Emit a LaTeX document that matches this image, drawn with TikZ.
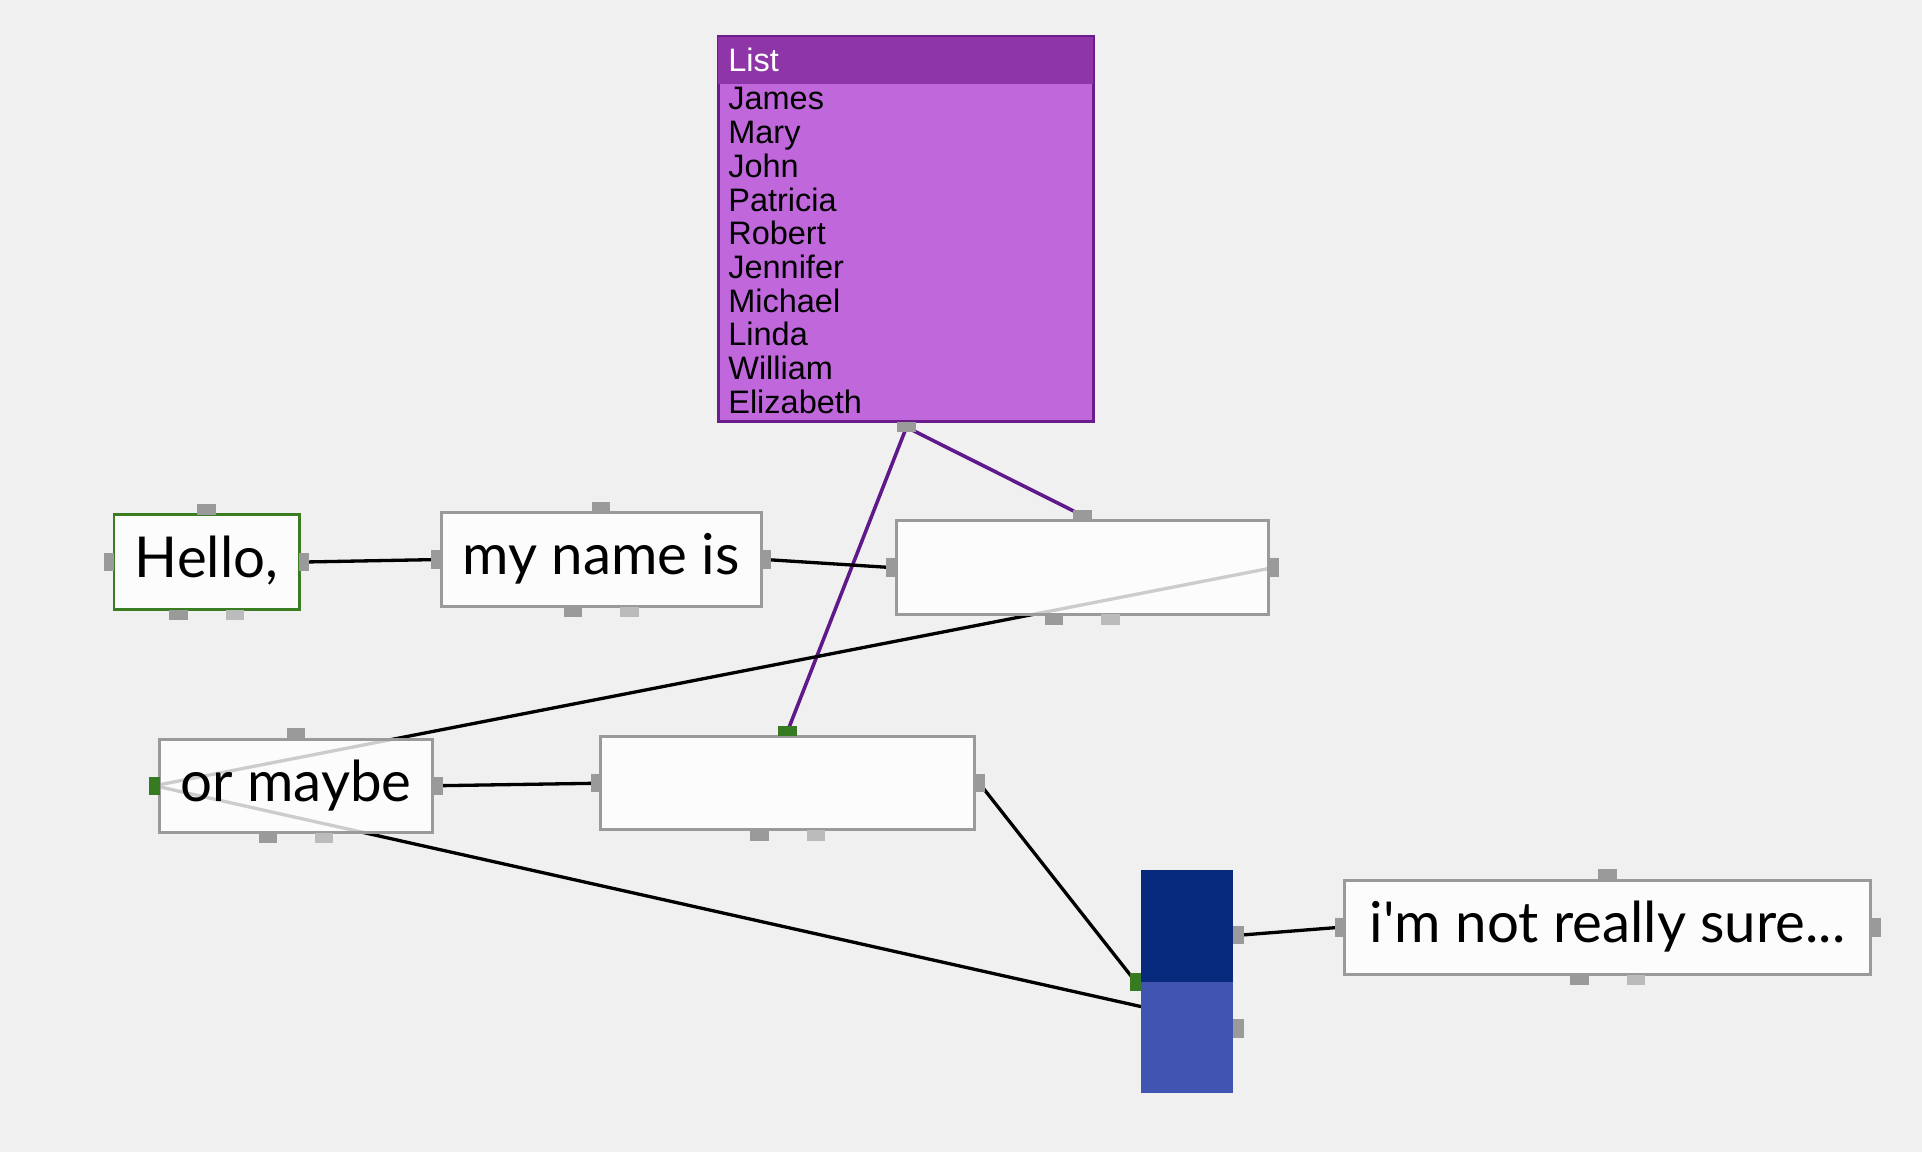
\documentclass[tikz,border=0pt]{standalone}
\usepackage{fontspec}
\setmainfont{Lato}
\newfontfamily\listfont{Liberation Sans}
\definecolor{bg}{HTML}{F0F0F0}
\definecolor{boxgray}{HTML}{9A9A9A}
\definecolor{portdark}{HTML}{9A9A9A}
\definecolor{portlight}{HTML}{BBBBBB}
\definecolor{portgreen}{HTML}{367A22}
\definecolor{hellogreen}{HTML}{3B7D23}
\definecolor{listborder}{HTML}{6B1D8C}
\definecolor{listhead}{HTML}{8E35A8}
\definecolor{listbody}{HTML}{C067DC}
\definecolor{purpleline}{HTML}{60198A}
\definecolor{navy}{HTML}{072A7D}
\definecolor{midblue}{HTML}{4154B1}
\tikzset{
  boxnode/.style={draw=boxgray, line width=2.4pt, fill=white, fill opacity=0.8, inner sep=0, rectangle},
  hport/.style={rectangle, inner sep=0, minimum width=15, minimum height=8.5, fill=portdark},
  vport/.style={rectangle, inner sep=0, minimum width=8.5, minimum height=15, fill=portdark},
  lightp/.style={fill=portlight},
  greenp/.style={fill=portgreen},
  conn/.style={line width=2.7pt, black},
  pconn/.style={line width=2.9pt, purpleline},
  boxtext/.style={anchor=base, inner sep=0, font=\fontsize{46}{50}\selectfont},
  listtext/.style={anchor=base west, inner sep=0, font=\listfont\fontsize{26.5}{27.5}\selectfont}
}
\begin{document}
\begin{tikzpicture}[x=1pt,y=-1pt]
\useasboundingbox (0,0) rectangle (1568,940);
\fill[bg] (0,0) rectangle (1568,940);

% List box
\node[rectangle, draw=listborder, line width=2.4pt, fill=listbody, inner sep=0, minimum width=306, minimum height=314] (list) at (739,187) {};
\fill[listhead] ([xshift=1.2pt,yshift=-1.2pt]list.north west) rectangle ([xshift=-1.2pt]list.east |- 0,68.5);
\node[listtext, text=white] (listtitle) at (594,58.5) {List};
\foreach \n [count=\i from 0] in {James,Mary,John,Patricia,Robert,Jennifer,Michael,Linda,William,Elizabeth}{
  \node[listtext] (name\i) at (594,{89.7+27.5*\i}) {\n};
}

% port coordinates (centres) for connectors
\coordinate (listB) at (739.5,348.5);
\coordinate (helloR) at (248,458.5);
\coordinate (mynameL) at (356,456.5);
\coordinate (mynameR) at (625,456.5);
\coordinate (aL) at (727,463);
\coordinate (aT) at (883,420.5);
\coordinate (aR) at (1039,463);
\coordinate (omL) at (126,641);
\coordinate (omR) at (357,641);
\coordinate (bL) at (486,639);
\coordinate (bT) at (642.5,596.5);
\coordinate (bR) at (799,639);
\coordinate (blueL) at (926.5,801);
\coordinate (blueRU) at (1010.5,763);
\coordinate (blueRL) at (1010.5,839);
\coordinate (nsL) at (1093,756.5);

% connectors
\draw[pconn] (listB) -- (aT);
\draw[pconn] (listB) -- (bT);
\draw[conn] (helloR) -- (mynameL);
\draw[conn] (mynameR) -- (aL);
\draw[conn] (aR) -- (omL);
\draw[conn] (omL) -- (blueRL);
\draw[conn] (omR) -- (bL);
\draw[conn] (bR) -- (blueL);
\draw[conn] (blueRU) -- (nsL);

% boxes
\node[boxnode, draw=hellogreen, minimum width=151, minimum height=77] (hello) at (168.5,458.5) {};
\node[boxnode, minimum width=261, minimum height=77] (myname) at (490.5,456.5) {};
\node[boxnode, minimum width=304, minimum height=76] (boxa) at (883,463) {};
\node[boxnode, minimum width=223, minimum height=76] (ormaybe) at (241.5,641) {};
\node[boxnode, minimum width=305, minimum height=76] (boxb) at (642.5,639) {};
\node[boxnode, minimum width=429, minimum height=77] (notsure) at (1311.5,756.5) {};
\node[rectangle, fill=navy, inner sep=0, minimum width=75, minimum height=91] (bluetop) at (968.5,755.5) {};
\node[rectangle, fill=midblue, inner sep=0, minimum width=75, minimum height=91] (bluebot) at (968.5,846.5) {};

% texts
\node[boxtext] (t1) at (168.5,471) {Hello,};
\node[boxtext] (t2) at (490.5,469) {my name is};
\node[boxtext] (t3) at (241.5,654) {or maybe};
\node[boxtext] (t4) at (1311.5,769) {i\textquotesingle m not really sure...};

% ports
\node[hport] (p1) at (listB) {};
% hello
\node[hport] at (168.5,415.5) {};
\node[vport] at (89,458.5) {};
\node[vport] at (helloR) {};
\node[hport] at (145.5,501.5) {};
\node[hport,lightp] at (191.5,501.5) {};
% my name
\node[hport] at (490.5,413.5) {};
\node[vport] at (mynameL) {};
\node[vport] at (mynameR) {};
\node[hport] at (467.5,499.5) {};
\node[hport,lightp] at (513.5,499.5) {};
% box a
\node[hport] at (aT) {};
\node[vport] at (aL) {};
\node[vport] at (aR) {};
\node[hport] at (860,505.5) {};
\node[hport,lightp] at (906,505.5) {};
% or maybe
\node[hport] at (241.5,598.5) {};
\node[vport,greenp] at (omL) {};
\node[vport] at (omR) {};
\node[hport] at (218.5,683.5) {};
\node[hport,lightp] at (264.5,683.5) {};
% box b
\node[hport,greenp] at (bT) {};
\node[vport] at (bL) {};
\node[vport] at (bR) {};
\node[hport] at (619.5,681.5) {};
\node[hport,lightp] at (665.5,681.5) {};
% blue block
\node[vport,greenp] at (blueL) {};
\node[vport] at (blueRU) {};
\node[vport] at (blueRL) {};
% not sure
\node[hport] at (1311.5,713.5) {};
\node[vport] at (nsL) {};
\node[vport] at (1530,756.5) {};
\node[hport] at (1288.5,799.5) {};
\node[hport,lightp] at (1334.5,799.5) {};
\end{tikzpicture}
\end{document}
